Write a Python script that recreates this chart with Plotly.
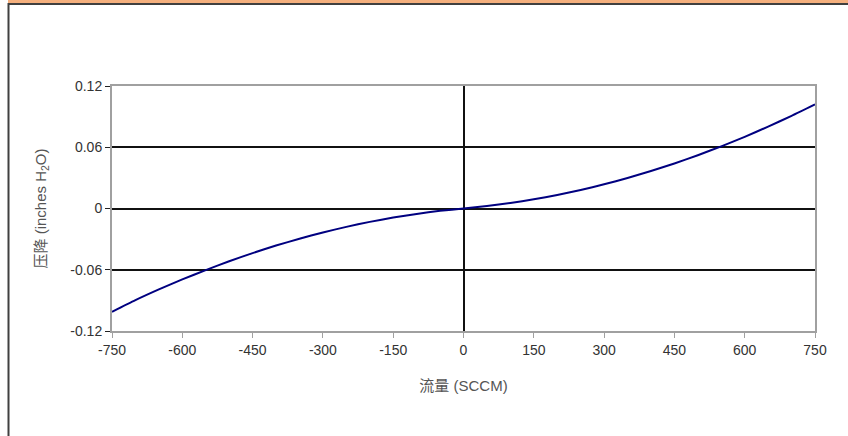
import plotly.graph_objects as go

flow = [-750, -700, -650, -600, -550, -500, -450, -400, -350, -300, -250, -200, -150, -100, -50,
        0, 50, 100, 150, 200, 250, 300, 350, 400, 450, 500, 550, 600, 650, 700, 750]
dp = [-0.1012, -0.0898, -0.0793, -0.0695, -0.0603, -0.0517, -0.0437, -0.0363, -0.0296, -0.0235,
      -0.0180, -0.0131, -0.0089, -0.0053, -0.0023,
      0.0, 0.0024, 0.0054, 0.0090, 0.0133, 0.0182, 0.0237, 0.0299, 0.0367, 0.0441, 0.0522,
      0.0609, 0.0702, 0.0802, 0.0908, 0.1020]

x_ticks = [-750, -600, -450, -300, -150, 0, 150, 300, 450, 600, 750]
x_tick_text = ["-750", "-600", "-450", "-300", "-150", "0", "150", "300", "450", "600", "750"]
y_ticks = [-0.12, -0.06, 0, 0.06, 0.12]
y_tick_text = ["-0.12", "-0.06", "0", "0.06", "0.12"]

FONT = "Liberation Sans, Arial, Noto Sans CJK SC, sans-serif"

fig = go.Figure()
fig.add_trace(go.Scatter(x=flow, y=dp, mode="lines",
                         line=dict(color="#000080", width=2, shape="spline", smoothing=0.6),
                         showlegend=False, hoverinfo="skip"))

L, R, T, B = 112, 33, 86, 105
W, H = 848, 436
pw, ph = W - L - R, H - T - B
def px(x): return (x - L) / pw
def py(y): return (H - B - y) / ph

fig.update_layout(
    width=W, height=H,
    margin=dict(l=L, r=R, t=T, b=B),
    paper_bgcolor="white", plot_bgcolor="white",
    font=dict(family=FONT, size=14, color="#333333"),
    xaxis=dict(range=[-750, 750], tickvals=x_ticks, ticktext=x_tick_text, showgrid=False,
               zeroline=True, zerolinecolor="#111111", zerolinewidth=2,
               showline=True, linecolor="#a0a0a0", linewidth=2, mirror=True,
               ticks="outside", ticklen=5, tickcolor="#a0a0a0", tickwidth=1,
               tickfont=dict(size=14, color="#333333"),
               title=dict(text="流量 (SCCM)", standoff=24,
                          font=dict(family=FONT, size=15, color="#555555"))),
    yaxis=dict(range=[-0.12, 0.12], tickvals=y_ticks, ticktext=y_tick_text,
               showgrid=True, gridcolor="#111111", gridwidth=2,
               zeroline=True, zerolinecolor="#111111", zerolinewidth=2,
               showline=True, linecolor="#a0a0a0", linewidth=2, mirror=True,
               ticks="outside", ticklen=5, tickcolor="#222222", tickwidth=1,
               tickfont=dict(size=14, color="#333333"),
               title=dict(text="压降 (inches H<sub>2</sub>O)", standoff=20,
                          font=dict(family=FONT, size=15, color="#555555"))),
    shapes=[
        dict(type="rect", xref="paper", yref="paper", x0=px(8), x1=px(848), y0=py(3), y1=py(0),
             fillcolor="#f5b07e", line=dict(width=0), layer="below"),
        dict(type="line", xref="paper", yref="paper", x0=px(8), x1=px(848), y0=py(4), y1=py(4),
             line=dict(color="#404040", width=2)),
        dict(type="line", xref="paper", yref="paper", x0=px(8.5), x1=px(8.5), y0=py(3), y1=py(436),
             line=dict(color="#404040", width=2)),
    ],
)

fig.write_html("out.html",
               config={"displayModeBar": False},
               post_script="document.body.style.margin='0';document.body.style.padding='0';"
                           "document.body.style.overflow='hidden';")
